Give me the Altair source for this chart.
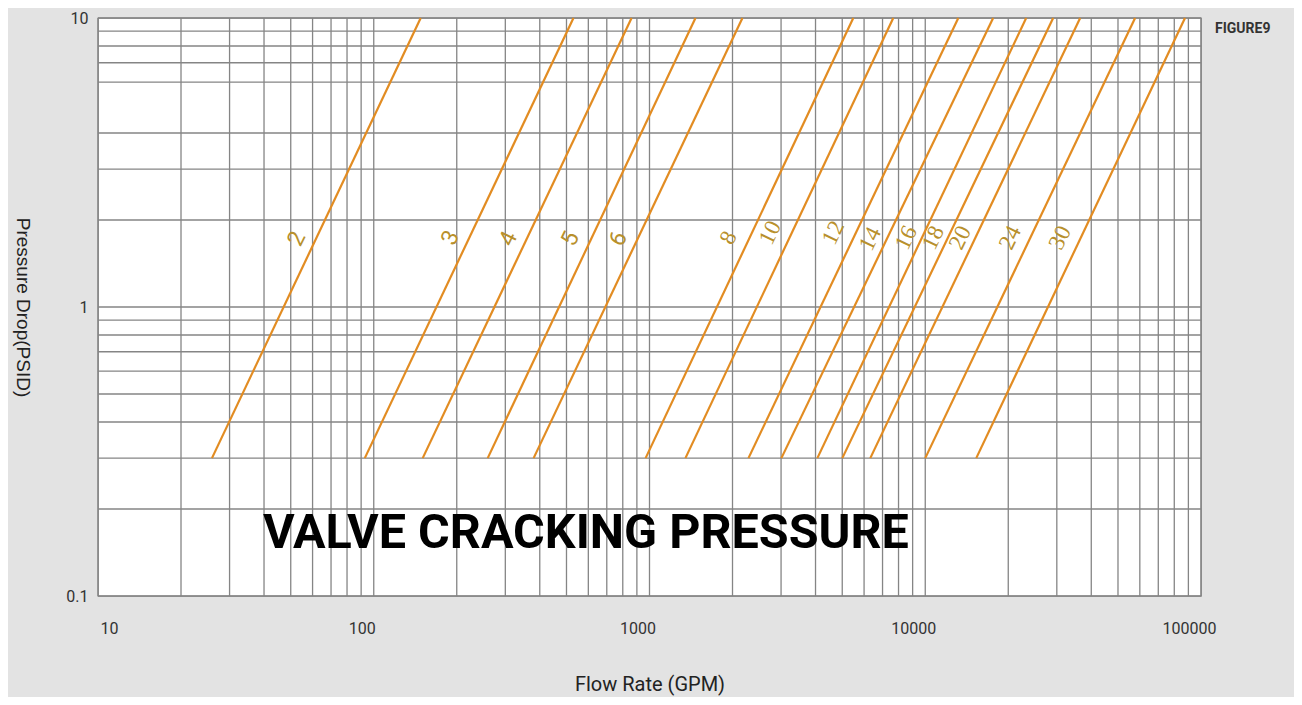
import altair as alt
import pandas as pd

# ---- data ----
sizes = ["2", "3", "4", "5", "6", "8", "10", "12", "14", "16", "18", "20", "24", "30"]
flow_at_low = [25.9, 92.8, 150.5, 259, 380, 968, 1350, 2285, 3008, 4062, 5003, 6320, 10000, 15310]
flow_at_high = [148, 530, 861, 1468, 2173, 5483, 7656, 13180, 17630, 23230, 29100, 36460, 57680, 87500]
p_low = 0.3
p_high = 10

label_flow = [52.6, 190, 308, 517, 772, 1932, 2742, 4642, 6320, 8530, 10690, 13390, 20320, 30830]
label_p = [1.72, 1.736, 1.72, 1.72, 1.72, 1.736, 1.807, 1.807, 1.72, 1.736, 1.736, 1.736, 1.736, 1.736]

x_ticks = [10, 100, 1000, 10000, 100000]
y_ticks = [0.1, 1, 10]
x_grid = [m * 10 ** e for e in range(1, 5) for m in range(1, 10)] + [100000]
y_grid = [0.1, 0.2, 0.3, 0.4, 0.5, 0.6, 0.7, 0.8, 0.9, 1, 2, 3, 4, 6, 7, 8, 9, 10]

# ---- tables ----
rows = []
for s, a, b in zip(sizes, flow_at_low, flow_at_high):
    rows.append({"size": s, "flow": a, "p": p_low})
    rows.append({"size": s, "flow": b, "p": p_high})
lines_df = pd.DataFrame(rows)
labels_df = pd.DataFrame({"size": sizes, "flow": label_flow, "p": label_p})
labels_df["serif"] = [int(s) >= 8 for s in sizes]
xg_df = pd.DataFrame({"flow": x_grid})
yg_df = pd.DataFrame({"p": y_grid})

COND = "Roboto, Liberation Sans Narrow, sans-serif"

xscale = alt.Scale(type="log", domain=[10, 100000], nice=False)
yscale = alt.Scale(type="log", domain=[0.1, 10], nice=False)

W, H = 1103, 578
GRID = "#858585"

xgrid = alt.Chart(xg_df).mark_rule(color=GRID, strokeWidth=1.3).encode(
    x=alt.X("flow:Q", scale=xscale,
            axis=alt.Axis(values=x_ticks, format="d", title="Flow Rate (GPM)",
                          grid=False, ticks=False, domain=False, labelFlush=False,
                          labelFont=COND, labelFontSize=16, labelColor="#333333",
                          labelPadding=24, labelBaseline="top",
                          labelOffset={"condition": {"test": "datum.value == 10", "value": 11}, "value": -12},
                          titleFont=COND, titleFontSize=20, titleFontWeight="normal",
                          titleColor="#222222", titleY=88, titleBaseline="middle"))
)
ygrid = alt.Chart(yg_df).mark_rule(color=GRID, strokeWidth=1.3).encode(
    y=alt.Y("p:Q", scale=yscale,
            axis=alt.Axis(values=y_ticks, labelExpr="datum.value == 0.1 ? '0.1' : format(datum.value, 'd')",
                          title="Pressure Drop(PSID)", grid=False, ticks=False, domain=False,
                          labelFont=COND, labelFontSize=16, labelColor="#333333",
                          labelPadding=10,
                          titleFont="Liberation Sans, Arial, sans-serif", titleFontSize=19,
                          titleFontWeight="normal", titleColor="#222222",
                          titleAngle=90, titleX=-76, titleY=H / 2, titleBaseline="middle"))
)

lines = alt.Chart(lines_df).mark_line(color="#e28c22", strokeWidth=2.2).encode(
    x=alt.X("flow:Q", scale=xscale),
    y=alt.Y("p:Q", scale=yscale),
    detail="size:N",
)

sans_labels = alt.Chart(labels_df).transform_filter("!datum.serif").mark_text(
    angle=296, font=COND, fontSize=23, color="#b8902c", align="center", baseline="middle"
).encode(x=alt.X("flow:Q", scale=xscale), y=alt.Y("p:Q", scale=yscale), text="size:N")

serif_labels = alt.Chart(labels_df).transform_filter("datum.serif").mark_text(
    angle=296, font="Liberation Serif, DejaVu Serif, serif", fontSize=23, color="#b8902c",
    align="center", baseline="middle"
).encode(x=alt.X("flow:Q", scale=xscale), y=alt.Y("p:Q", scale=yscale), text="size:N")

big_title = alt.Chart(pd.DataFrame({"t": ["VALVE CRACKING PRESSURE"]})).mark_text(
    font=COND, fontSize=48.5, fontWeight="bold", color="#000000", align="left", baseline="alphabetic"
).encode(x=alt.value(165), y=alt.value(530), text="t:N")

fig_label = alt.Chart(pd.DataFrame({"t": ["FIGURE9"]})).mark_text(
    font=COND, fontSize=14, fontWeight="bold", color="#333333", align="left", baseline="middle"
).encode(x=alt.value(1117), y=alt.value(11), text="t:N")

chart = alt.layer(xgrid, ygrid, lines, sans_labels, serif_labels, big_title, fig_label).resolve_scale(
    x="shared", y="shared"
).properties(
    width=W, height=H,
    autosize=alt.AutoSizeParams(type="none"),
    padding={"left": 90, "top": 10, "right": 93, "bottom": 101},
    background="#e3e3e3",
).configure_view(
    fill="white", stroke=GRID, strokeWidth=1.3
)

chart.save("out.html", embed_options={"renderer": "svg", "actions": False})
